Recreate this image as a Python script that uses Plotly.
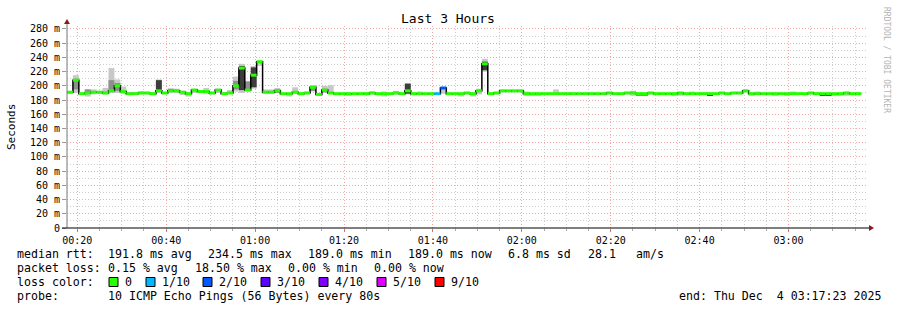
import plotly.graph_objects as go
import pandas as pd

# ---------------- data ----------------
START = "2025-12-04 00:17:41"
STEP_S = 80

median = [
    191, 208, 189, 190, 191, 191, 190, 193, 200, 192,
    189, 189, 190, 190, 189, 193, 190, 193, 193, 191,
    189, 194, 192, 192, 190, 194, 189, 190, 200, 225,
    194, 215, 234, 191, 191, 193, 189, 189, 191, 189,
    190, 198, 188, 194, 190, 189, 189, 189, 189, 189,
    189, 190, 189, 189, 189, 190, 189, 193, 189, 189,
    189, 189, 189, 197, 189, 189, 189, 190, 189, 193,
    231, 189, 190, 193, 193, 193, 193, 189, 189, 189,
    189, 189, 189, 189, 189, 189, 189, 189, 189, 189,
    189, 190, 189, 189, 190, 190, 189, 189, 190, 189,
    189, 189, 189, 190, 189, 189, 189, 189, 189, 189,
    190, 189, 190, 190, 193, 189, 189, 189, 189, 189,
    189, 189, 189, 189, 189, 190, 189, 189, 189, 189,
    189, 190, 189, 189,
]

loss = [0] * 62 + [1, 2] + [0] * 70

smoke_lo = [
    189, 190, 188, 185, 188, 189, 188, 190, 190, 189,
    188, 188, 188, 188, 187, 190, 188, 190, 190, 187,
    185, 190, 190, 189, 188, 190, 188, 189, 192, 190,
    193, 196, 228, 189, 189, 190, 188, 185, 189, 188,
    188, 192, 187, 190, 189, 188, 188, 186, 188, 188,
    188, 188, 188, 185, 188, 188, 188, 188, 188, 188,
    188, 188, 188, 189, 188, 188, 185, 188, 185, 188,
    220, 188, 188, 191, 191, 191, 191, 186, 186, 186,
    188, 188, 188, 188, 188, 188, 188, 188, 188, 188,
    188, 188, 188, 188, 188, 186, 186, 186, 188, 188,
    188, 188, 186, 186, 188, 188, 188, 188, 187, 188,
    188, 188, 188, 188, 191, 186, 188, 188, 188, 186,
    188, 186, 188, 188, 188, 188, 188, 187, 187, 186,
    186, 186, 188, 188,
]
smoke_hi = [
    192, 215, 190, 195, 195, 193, 197, 225, 209, 199,
    191, 191, 192, 191, 190, 209, 191, 196, 196, 193,
    191, 196, 194, 197, 191, 196, 191, 194, 213, 231,
    207, 228, 235, 195, 195, 197, 190, 190, 198, 190,
    191, 201, 190, 200, 201, 190, 190, 190, 190, 190,
    191, 192, 190, 192, 190, 193, 190, 204, 190, 192,
    190, 190, 190, 198, 190, 190, 190, 191, 190, 196,
    238, 190, 191, 194, 194, 194, 194, 192, 190, 190,
    190, 190, 195, 190, 190, 190, 190, 190, 190, 190,
    190, 191, 190, 190, 191, 193, 190, 190, 191, 190,
    190, 190, 190, 191, 190, 192, 190, 190, 190, 190,
    191, 190, 191, 191, 194, 190, 192, 190, 190, 190,
    190, 190, 192, 190, 190, 191, 190, 190, 190, 190,
    190, 190, 190, 190,
]
# medium-grey part of the smoke: (step index, low, high)
mid_bands = [
    (1, 195, 210), (3, 191, 195), (7, 193, 208), (8, 193, 204), (17, 192, 196),
    (28, 195, 207), (30, 195, 206), (35, 190, 195), (41, 193, 199), (43, 191, 196),
    (96, 186, 188), (97, 186, 188),
]
# dark core of the smoke: (step index, low, high)
core_bands = [
    (15, 193, 208), (29, 194, 228), (31, 198, 226), (57, 189, 203), (70, 222, 234),
    (108, 186, 188), (127, 186, 188), (128, 186, 188),
]

loss_colors = {0: "#26ff00", 1: "#00b8ff", 2: "#0059ff", 3: "#5e00ff",
               4: "#7e00ff", 5: "#dd00ff", 9: "#ff0000"}
legend_levels = [(0, "0"), (1, "1/10"), (2, "2/10"), (3, "3/10"),
                 (4, "4/10"), (5, "5/10"), (9, "9/10")]
y_ticks = list(range(0, 281, 20))
y_ticktext = ["0"] + [f"{v} m" for v in y_ticks[1:]]

# ---------------- geometry ----------------
W, H = 897, 310
L, R, T, B = 67, 868, 26, 228
X_RANGE = ["2025-12-04 00:17:41", "2025-12-04 03:17:53"]
Y_RANGE = [0, 284.2]


def px(x):
    return (x - L) / (R - L)


def py(y):
    return (B - y) / (B - T)


start = pd.Timestamp(START)
n = len(median)
t0 = [start + pd.Timedelta(seconds=STEP_S * i) for i in range(n)]
t1 = [start + pd.Timedelta(seconds=STEP_S * (i + 1)) for i in range(n)]
tc = [start + pd.Timedelta(seconds=STEP_S * i + STEP_S / 2) for i in range(n)]

fig = go.Figure()
fig.add_trace(go.Bar(x=tc, y=[h - l for l, h in zip(smoke_lo, smoke_hi)], base=smoke_lo,
                     width=STEP_S * 1000, marker=dict(color="#c8c8c8", line=dict(width=0)),
                     hoverinfo="skip", showlegend=False))
for bands, col in [(mid_bands, "#8e8e8e"), (core_bands, "#3c3c3c")]:
    fig.add_trace(go.Bar(x=[tc[i] for i, _, _ in bands], y=[h - l for _, l, h in bands],
                         base=[l for _, l, _ in bands], width=STEP_S * 1000,
                         marker=dict(color=col, line=dict(width=0)),
                         hoverinfo="skip", showlegend=False))
fig.add_trace(go.Scatter(x=t0 + [t1[-1]], y=median + [median[-1]], mode="lines",
                         line=dict(color="black", width=1.5, shape="hv"),
                         hoverinfo="skip", showlegend=False))
for lvl in sorted(set(loss)):
    xs, ys = [], []
    for i in range(n):
        if loss[i] == lvl:
            xs += [t0[i], t1[i], None]
            ys += [median[i], median[i], None]
    fig.add_trace(go.Scatter(x=xs, y=ys, mode="lines",
                             line=dict(color=loss_colors[lvl], width=3),
                             hoverinfo="skip", showlegend=False))

MONO = "DejaVu Sans Mono"
grid_dash = "1px,2px"
fig.update_layout(
    width=W, height=H, margin=dict(l=L, r=W - R, t=T, b=H - B),
    paper_bgcolor="white", plot_bgcolor="white", barmode="overlay",
    font=dict(family=MONO, color="black"),
    xaxis=dict(type="date", range=X_RANGE, tickformat="%H:%M",
               tick0="2025-12-04 00:00:00", dtick=20 * 60 * 1000,
               showgrid=True, gridcolor="#f0a8a8", griddash=grid_dash, gridwidth=1,
               ticks="outside", ticklen=3, tickcolor="#e07070",
               minor=dict(dtick=5 * 60 * 1000, showgrid=True, gridcolor="#cfcfcf",
                          griddash=grid_dash, ticks="outside", ticklen=2, tickcolor="#aaaaaa"),
               showline=False, zeroline=False,
               tickfont=dict(family=MONO, size=10, color="black")),
    yaxis=dict(range=Y_RANGE, tickvals=y_ticks, ticktext=y_ticktext,
               showgrid=True, gridcolor="#f0a8a8", griddash=grid_dash, gridwidth=1,
               ticks="outside", ticklen=4, tickcolor="#999999",
               minor=dict(dtick=10, showgrid=True, gridcolor="#cfcfcf", griddash=grid_dash),
               showline=False, zeroline=False,
               tickfont=dict(family=MONO, size=10, color="black")),
)

shapes = [
    dict(type="line", xref="paper", yref="paper", x0=0, x1=0, y0=0, y1=py(23),
         line=dict(color="#777777", width=1)),
    dict(type="path", xref="paper", yref="paper",
         path=f"M {px(64)} {py(24)} L {px(70)} {py(24)} L {px(67)} {py(19)} Z",
         fillcolor="#8b1a1a", line=dict(width=0)),
    dict(type="line", xref="paper", yref="paper", x0=px(62), x1=px(869), y0=0, y1=0,
         line=dict(color="black", width=1)),
    dict(type="path", xref="paper", yref="paper",
         path=f"M {px(869)} {py(225)} L {px(869)} {py(231)} L {px(874)} {py(228)} Z",
         fillcolor="#8b1a1a", line=dict(width=0)),
]

annotations = [
    dict(text="Last 3 Hours", x=px(448), y=py(19), xanchor="center", yanchor="middle",
         font=dict(family=MONO, size=13)),
    dict(text="Seconds", x=px(11), y=py(127), xanchor="center", yanchor="middle",
         textangle=-90, font=dict(family=MONO, size=11)),
    dict(text="RRDTOOL / TOBI OETIKER", x=px(887), y=py(60), xanchor="center", yanchor="middle",
         textangle=90, font=dict(family=MONO, size=8, color="#b4b4b4")),
]

LEG = 11.6
line_y = [254, 268, 282, 296]
rows = [
    [(16, "median rtt:"), (107, "191.8 ms avg"), (207, "234.5 ms max"), (307, "189.0 ms min"),
     (407, "189.0 ms now"), (507, "6.8 ms sd"), (587, "28.1"), (635, "am/s")],
    [(16, "packet loss:"), (107, "0.15 % avg"), (194, "18.50 % max"), (287, "0.00 % min"),
     (373, "0.00 % now")],
    [(16, "loss color:")],
    [(16, "probe:"), (107, "10 ICMP Echo Pings (56 Bytes) every 80s"),
     (678, "end: Thu Dec\u00a0\u00a04 03:17:23 2025")],
]
for ly, row in zip(line_y, rows):
    for x, txt in row:
        annotations.append(dict(text=txt.replace(" ", "\u00a0"), x=px(x), y=py(ly),
                                xanchor="left", yanchor="middle", borderpad=0,
                                font=dict(family=MONO, size=LEG)))

sq_x = [109, 146, 203, 261, 319, 377, 435]
for (lvl, lab), sx in zip(legend_levels, sq_x):
    shapes.append(dict(type="rect", xref="paper", yref="paper",
                       x0=px(sx), x1=px(sx + 9), y0=py(286.5), y1=py(277.5),
                       fillcolor=loss_colors[lvl], line=dict(color="black", width=1)))
    annotations.append(dict(text=lab, x=px(sx + 15), y=py(282), xanchor="left",
                            yanchor="middle", borderpad=0, font=dict(family=MONO, size=LEG)))

for a in annotations:
    a.update(xref="paper", yref="paper", showarrow=False)
fig.update_layout(shapes=shapes, annotations=annotations)

fig.write_html("out.html")
